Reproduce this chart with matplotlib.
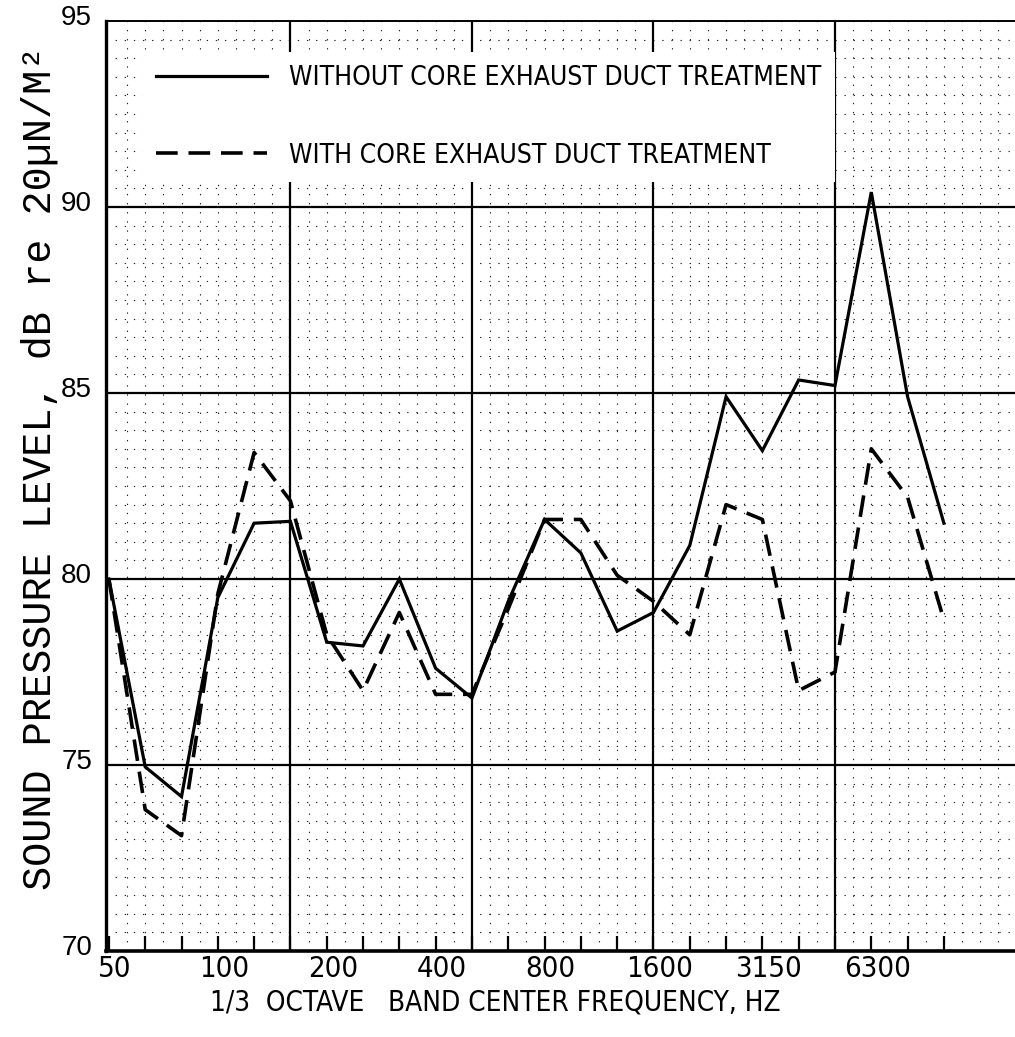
"""1/3 octave band spectrum, with and without core exhaust duct treatment."""
import numpy as np
import matplotlib
matplotlib.use('Agg')
import matplotlib.pyplot as plt
import matplotlib.transforms as mtransforms
from matplotlib import font_manager as fm


# 1/3 octave band centre frequencies, Hz
BANDS = [50, 63, 80, 100, 125, 160, 200, 250, 315, 400, 500, 630,
         800, 1000, 1250, 1600, 2000, 2500, 3150, 4000, 5000, 6300, 8000, 10000]

# sound pressure level, dB re 20 uN/m2
SPL_WITHOUT = [80.0, 74.95, 74.15, 79.5, 81.5, 81.55, 78.3, 78.2, 80.0, 77.6, 76.8, 79.4,
               81.6, 80.7, 78.6, 79.1, 80.9, 84.9, 83.45, 85.35, 85.2, 90.4, 84.9, 81.5]
SPL_WITH = [80.0, 73.8, 73.1, 79.6, 83.4, 82.1, 78.5, 77.0, 79.1, 76.9, 76.9, 79.2,
            81.6, 81.6, 80.1, 79.4, 78.5, 82.0, 81.6, 77.0, 77.5, 83.5, 82.2, 78.9]

XTICK_BANDS = [50, 100, 200, 400, 800, 1600, 3150, 6300]
XTICK_LABELS = ['50', '100', '200', '400', '800', '1600', '3150', '6300']
YTICKS = [70, 75, 80, 85, 90, 95]

LABEL_WITHOUT = 'WITHOUT CORE EXHAUST DUCT TREATMENT'
LABEL_WITH = 'WITH CORE EXHAUST DUCT TREATMENT'
XLABEL = '1/3  OCTAVE   BAND CENTER FREQUENCY, HZ'
YLABEL = 'SOUND PRESSURE LEVEL, dB re 20\u00b5N/M\u00b2'


def find_condensed():
    """Look for any installed narrow/condensed upright regular face."""
    for f in fm.fontManager.ttflist:
        tag = (f.name + ' ' + f.fname).lower()
        narrow = ('narrow' in tag or 'condensed' in tag
                  or f.stretch in ('condensed', 'semi-condensed'))
        if narrow and f.style == 'normal' and f.weight in (400, 'normal', 'regular', 'book') \
                and 'bold' not in tag and 'light' not in tag:
            return f.fname
    return None


cond_file = find_condensed()
if cond_file:
    def narrow_fp(size):
        return fm.FontProperties(fname=cond_file, size=size)
    NSCALE = 1.0
else:
    def narrow_fp(size):
        return fm.FontProperties(family='DejaVu Sans', size=size * 0.78)
    NSCALE = 0.78

mono_names = {f.name for f in fm.fontManager.ttflist}
MONO = 'Liberation Mono' if 'Liberation Mono' in mono_names else 'DejaVu Sans Mono'
REGULAR = ['Liberation Sans', 'DejaVu Sans']

W, H = 1015, 1037
fig = plt.figure(figsize=(W / 100, H / 100), dpi=100)
ax = fig.add_axes([106 / W, 1 - 951 / H, (W - 106) / W, (951 - 21) / H])

x = np.arange(len(BANDS))

# graph paper: minor dotted grid, heavy lines every 5 units
for v in np.arange(0.5, 25, 0.5):
    if v % 5 != 0:
        ax.axvline(v, color='#222222', lw=0.8, ls=(0, (1.2, 7)), zorder=1)
for v in np.arange(70.5, 95, 0.5):
    if v % 5 != 0:
        ax.axhline(v, color='#222222', lw=0.8, ls=(0, (1.2, 7)), zorder=1)
for v in range(5, 25, 5):
    ax.axvline(v, color='black', lw=1.6, zorder=2)
for v in YTICKS[1:-1]:
    ax.axhline(v, color='black', lw=1.6, zorder=2)

ax.plot(x, SPL_WITHOUT, color='black', lw=2.3, solid_joinstyle='miter',
        label=LABEL_WITHOUT, zorder=4)
ax.plot(x, SPL_WITH, color='black', lw=2.6, ls=(0, (6, 3)),
        label=LABEL_WITH, zorder=4)

ax.set_xlim(-0.08, (W - 109) / 36.3)
ax.set_ylim(70, 95)

# x axis: tick at every band, labels every octave
ax.set_xticks(x, minor=True)
ax.set_xticks([BANDS.index(b) for b in XTICK_BANDS])
ax.set_xticklabels(XTICK_LABELS, fontproperties=narrow_fp(21))
ax.tick_params(axis='x', which='both', direction='in', length=11, width=1.6,
               pad=3, top=False)
shift = mtransforms.ScaledTranslation(6 / 100, 0, fig.dpi_scale_trans)
for lbl in ax.get_xticklabels():
    lbl.set_transform(lbl.get_transform() + shift)

ax.set_yticks(YTICKS)
ax.set_yticklabels([str(v) for v in YTICKS], family=REGULAR, fontsize=20)
ax.tick_params(axis='y', length=0, pad=10)
up = mtransforms.ScaledTranslation(0, 6 / 100, fig.dpi_scale_trans)
for lbl in ax.get_yticklabels():
    lbl.set_transform(lbl.get_transform() + up)

ax.spines['right'].set_visible(False)
ax.spines['left'].set_linewidth(2.4)
ax.spines['bottom'].set_linewidth(2.6)
ax.spines['top'].set_linewidth(1.4)

fig.text(495 / W, 1 - 1002 / H, XLABEL, fontproperties=narrow_fp(20),
         ha='center', va='center')
fig.text(40 / W, 1 - 468 / H, YLABEL, family=[MONO, 'DejaVu Sans Mono'],
         fontsize=29, rotation=90, ha='center', va='center')

leg = ax.legend(loc='upper left', bbox_to_anchor=(0.026, 0.981),
                prop=narrow_fp(19), handlelength=4.2 / NSCALE,
                handletextpad=0.85 / NSCALE, labelspacing=1.95 / NSCALE,
                borderpad=0.5, frameon=True, fancybox=False, framealpha=1.0)
leg.get_frame().set_facecolor('white')
leg.get_frame().set_edgecolor('none')
leg.set_zorder(5)

fig.savefig('out.png', dpi=100)
